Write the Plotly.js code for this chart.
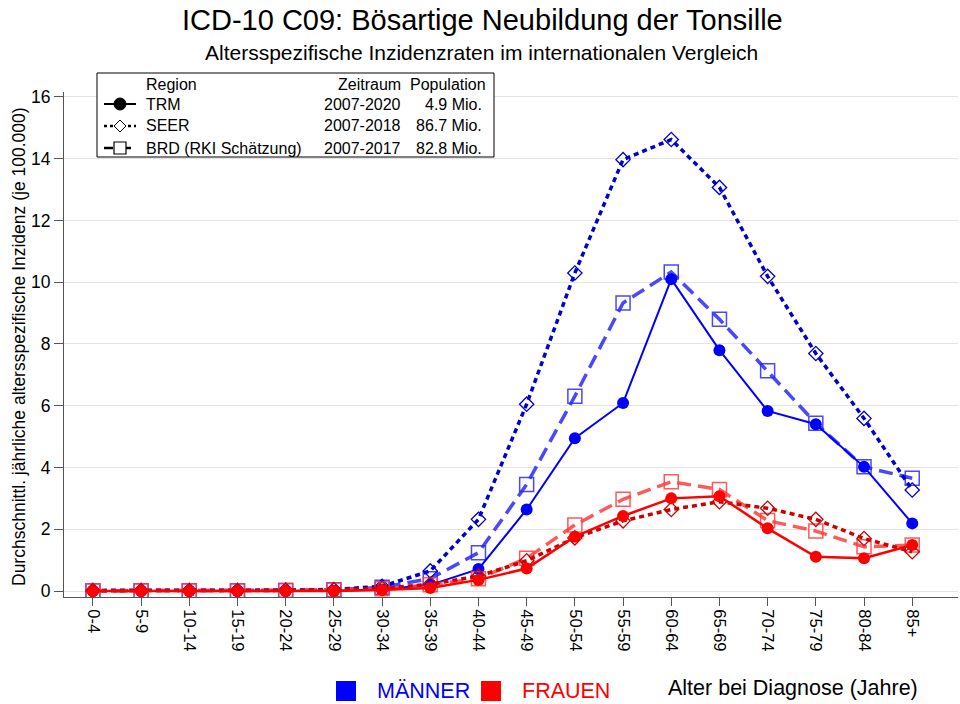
<!DOCTYPE html>
<html>
<head>
<meta charset="utf-8">
<script src="https://cdn.plot.ly/plotly-3.0.1.min.js"></script>
<style>html,body{margin:0;padding:0;background:#fff;}#chart{width:960px;height:704px;}</style>
</head>
<body>
<div id="chart"></div>
<script>
// ---- data ----
const ageGroups = ['0-4','5-9','10-14','15-19','20-24','25-29','30-34','35-39','40-44','45-49','50-54','55-59','60-64','65-69','70-74','75-79','80-84','85+'];
const trmM  = [0,0,0,0,0,0.01,0.05,0.2,0.71,2.64,4.95,6.09,10.1,7.8,5.83,5.4,4.02,2.19];
const seerM = [0.02,0.02,0.02,0.02,0.03,0.05,0.15,0.65,2.32,6.05,10.3,13.97,14.62,13.07,10.19,7.69,5.59,3.27];
const brdM  = [0.01,0.01,0.01,0.01,0.02,0.04,0.12,0.4,1.24,3.45,6.31,9.33,10.33,8.8,7.13,5.43,4.02,3.65];
const trmF  = [0,0,0,0,0,0,0.03,0.1,0.36,0.73,1.76,2.43,3.0,3.07,2.03,1.11,1.06,1.49];
const seerF = [0.01,0.01,0.01,0.01,0.02,0.04,0.08,0.22,0.48,0.98,1.72,2.27,2.64,2.89,2.68,2.32,1.7,1.27];
const brdF  = [0.01,0.01,0.01,0.01,0.02,0.03,0.07,0.2,0.4,1.06,2.14,2.97,3.54,3.29,2.28,1.94,1.43,1.49];

const legendRows = [
  {region:'TRM', period:'2007-2020', pop:'4.9 Mio.'},
  {region:'SEER', period:'2007-2018', pop:'86.7 Mio.'},
  {region:'BRD (RKI Schätzung)', period:'2007-2017', pop:'82.8 Mio.'}
];
const sexLabels = ['MÄNNER','FRAUEN'];
const sexColors = ['#0000ff','#ff0000'];

// ---- layout helpers (pixel -> paper) ----
const W = 960, H = 704, L = 64, R = 958, T = 92, B = 597;
const PW = R - L, PH = B - T;
const px = x => (x - L) / PW;
const py = y => (B - y) / PH;
const FONT = 'Liberation Sans, Arial, Helvetica, sans-serif';

function trace(y, color, dash, width, symbol, msize, mline) {
  return {
    x: ageGroups, y: y, type: 'scatter', mode: 'lines+markers', showlegend: false,
    line: {color: color, dash: dash, width: width},
    marker: {symbol: symbol, size: msize, color: color, line: {color: color, width: mline}},
    hoverinfo: 'x+y'
  };
}

const data = [
  trace(brdM, 'rgba(40,40,255,0.85)', '14px,7px', 3.5, 'square-open', 14, 1.5),
  trace(seerM, '#0000cc', '5px,4px', 3.5, 'diamond-open', 11, 1.3),
  trace(trmM, '#0000ff', 'solid', 2, 'circle', 12, 0),
  trace(brdF, 'rgba(255,60,60,0.85)', '14px,7px', 3.5, 'square-open', 14, 1.5),
  trace(seerF, '#cc0000', '5px,4px', 3.5, 'diamond-open', 11, 1.3),
  trace(trmF, '#ff0000', 'solid', 2.5, 'circle', 12, 0)
];

// ---- manual legend ----
const shapes = [];
const annotations = [];
function ann(text, x, y, size, color, xanchor, angle) {
  annotations.push({text: text, xref: 'paper', yref: 'paper', x: px(x), y: py(y),
    xanchor: xanchor || 'left', yanchor: 'middle', showarrow: false, textangle: angle || 0,
    font: {family: FONT, size: size, color: color || '#000'}});
}
shapes.push({type:'rect', xref:'paper', yref:'paper', x0: px(97), x1: px(494), y0: py(157), y1: py(73),
  line:{color:'#000', width:1}, fillcolor:'#fff', layer:'above'});
const hdrY = 84, rowY = [104, 126, 148];
const LF = 16;
ann('Region', 144, hdrY, LF);
ann('Zeitraum', 403, hdrY, LF, '#000', 'right');
ann('Population', 488, hdrY, LF, '#000', 'right');
const dashes = ['solid', 'dot', 'dash'];
legendRows.forEach((r, i) => {
  const y = rowY[i];
  ann(r.region, 144, y, LF);
  ann(r.period, 403, y, LF, '#000', 'right');
  ann(r.pop, 484, y, LF, '#000', 'right');
  shapes.push({type:'line', xref:'paper', yref:'paper', x0: px(104), x1: px(136), y0: py(y), y1: py(y),
    line:{color:'#000', width: i === 0 ? 2 : 2.5, dash: dashes[i]}});
  const cx = 120;
  if (i === 0) {
    shapes.push({type:'circle', xref:'paper', yref:'paper', x0: px(cx-6), x1: px(cx+6), y0: py(y+6), y1: py(y-6),
      fillcolor:'#000', line:{color:'#000', width:1}});
  } else if (i === 1) {
    const d = 6;
    shapes.push({type:'path', xref:'paper', yref:'paper',
      path: `M ${px(cx)} ${py(y-d)} L ${px(cx+d)} ${py(y)} L ${px(cx)} ${py(y+d)} L ${px(cx-d)} ${py(y)} Z`,
      fillcolor:'#fff', line:{color:'#000', width:1}});
  } else {
    shapes.push({type:'rect', xref:'paper', yref:'paper', x0: px(cx-6), x1: px(cx+6), y0: py(y+6), y1: py(y-6),
      fillcolor:'#fff', line:{color:'#000', width:1.2}});
  }
});

// bottom sex legend
const sexSqX = [336, 481], sexTxtX = [375, 520];
sexLabels.forEach((s, i) => {
  shapes.push({type:'rect', xref:'paper', yref:'paper', x0: px(sexSqX[i]), x1: px(sexSqX[i]+20),
    y0: py(701), y1: py(681), fillcolor: sexColors[i], line:{width:0}});
  ann(s, sexTxtX[i], 691, 21.5, sexColors[i]);
});
ann('Alter bei Diagnose (Jahre)', 920, 688, 21.5, '#000', 'right');

// y axis title
ann('Durchschnittl. jährliche altersspezifische Inzidenz (je 100.000)', 19, 347, 17.5, '#000', 'center', -90);

// titles
annotations.push({text:'ICD-10 C09: Bösartige Neubildung der Tonsille', xref:'paper', yref:'paper',
  x: px(482), y: py(20), xanchor:'center', yanchor:'middle', showarrow:false,
  font:{family: FONT, size: 29, color:'#000'}});
annotations.push({text:'Altersspezifische Inzidenzraten im internationalen Vergleich', xref:'paper', yref:'paper',
  x: px(481), y: py(53), xanchor:'center', yanchor:'middle', showarrow:false,
  font:{family: FONT, size: 21, color:'#000'}});

const layout = {
  width: W, height: H,
  margin: {l: L, r: W - R, t: T, b: H - B, pad: 0},
  paper_bgcolor: '#fff', plot_bgcolor: '#fff',
  showlegend: false,
  font: {family: FONT, color: '#000'},
  xaxis: {
    type: 'category', range: [-0.6, 17.95], showgrid: false, zeroline: false,
    showline: true, linecolor: '#555', linewidth: 1,
    ticks: 'outside', ticklen: 8, tickcolor: '#555', tickwidth: 1,
    tickangle: 90, tickfont: {family: FONT, size: 16.5, color: '#000'}
  },
  yaxis: {
    range: [-0.194, 16.16], tickvals: [0,2,4,6,8,10,12,14,16], showgrid: true, gridcolor: '#e3e3e3', gridwidth: 1,
    zeroline: false, showline: true, linecolor: '#555', linewidth: 1,
    ticks: 'outside', ticklen: 9, tickcolor: '#555', tickwidth: 1,
    tickfont: {family: FONT, size: 17.5, color: '#000'}
  },
  shapes: shapes,
  annotations: annotations
};

Plotly.newPlot('chart', data, layout, {displayModeBar: false, staticPlot: true});
</script>
</body>
</html>
